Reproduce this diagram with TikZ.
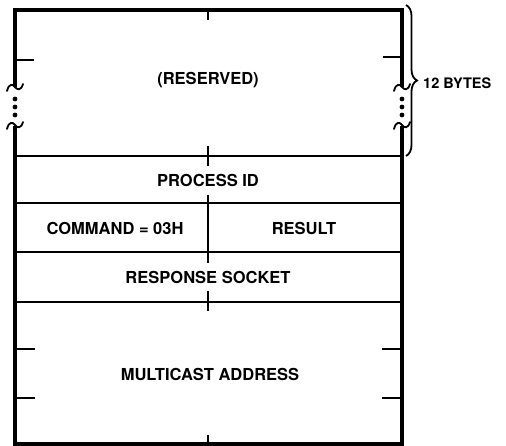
\documentclass[tikz,border=0pt]{standalone}
\usepackage{fontspec}
\setmainfont{TeX Gyre Heros}
\usetikzlibrary{positioning,decorations.pathreplacing}

\begin{document}
\begin{tikzpicture}[
    x=1bp, y=-1bp,
    font=\bfseries\fontsize{16.5bp}{19bp}\selectfont,
    cadre/.style={line width=3.6bp},
    ligne/.style={line width=2bp},
    coupure/.style={line width=1.8bp, line cap=round},
    champ/.style={inner sep=0pt},
  ]
  \useasboundingbox (0,0) rectangle (506,446);
  % --- Cadre (coupé sur les côtés) ---
  \coordinate (nw) at (15,10);
  \coordinate (ne) at (402,10);
  \coordinate (sw) at (15,444);
  \coordinate (se) at (402,444);
  \draw[cadre] (15,87) -- (nw) -- (ne) -- (402,87);
  \draw[cadre] (15,126) -- (sw) -- (se) -- (402,126);
  % Coupures et points de suspension
  \foreach \x in {15,402} {
    \foreach \y in {87,125}
      \draw[coupure] (\x-8,\y+4) .. controls (\x-6,\y-4) and (\x-2,\y-3) .. (\x,\y)
        .. controls (\x+2,\y+3) and (\x+6,\y+4) .. (\x+8,\y-3);
    \foreach \y in {99,107,115}
      \fill (\x,\y) circle (2.4bp);
  }
  % --- Lignes de séparation ---
  \foreach \y in {156,203,252,302}
    \draw[ligne] (15,\y) -- (402,\y);
  % Graduations
  \draw[ligne] (208,10) -- (208,20);
  \draw[ligne] (208,146) -- (208,166);
  \draw[ligne] (208,195) -- (208,263);
  \draw[ligne] (208,291) -- (208,311);
  \draw[ligne] (208,435) -- (208,444);
  \draw[ligne] (15,60) -- (34,60);
  \draw[ligne] (383,57) -- (402,57);
  \foreach \y in {349,398} {
    \draw[ligne] (15,\y) -- (35,\y);
    \draw[ligne] (382,\y) -- (402,\y);
  }
  % --- Champs ---
  \node[champ] (reserved) at (208,80) {(RESERVED)};
  \node[champ] (pid) at (208,180) {PROCESS ID};
  \node[champ] (cmd) at (115,228) {COMMAND = 03H};
  \node[champ] (result) at (304,228) {RESULT};
  \node[champ] (socket) at (208,277) {RESPONSE SOCKET};
  \node[champ] (mcast) at (210,374) {MULTICAST ADDRESS};
  % --- Accolade ---
  \coordinate (haut) at (406,5);
  \coordinate (bas) at (406,156);
  \draw[line width=1.8bp, decorate, decoration={brace, amplitude=11bp}] (haut) -- (bas);
  \node[champ, anchor=west, font=\bfseries\fontsize{14.5bp}{17bp}\selectfont] (taille) at (423,83) {12 BYTES};
\end{tikzpicture}
\end{document}
